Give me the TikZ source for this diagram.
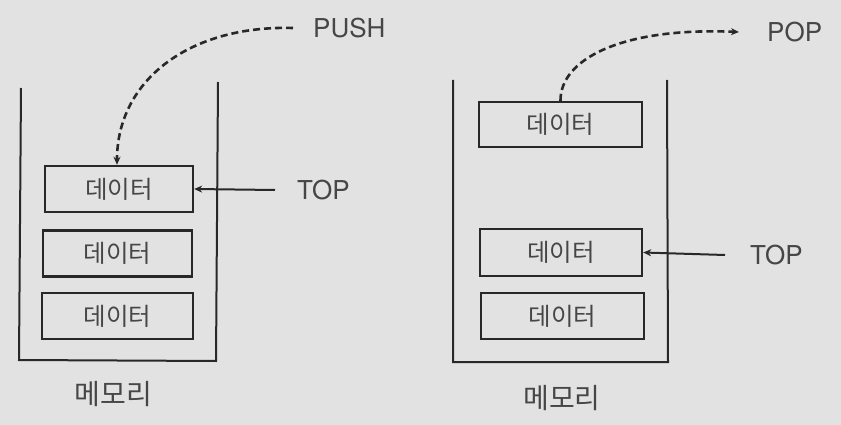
\documentclass[tikz,border=0pt]{standalone}
\usepackage{fontspec}
\setmainfont{TeX Gyre Heros}
\newfontfamily\kr{Noto Sans CJK KR}
\usetikzlibrary{arrows.meta}
\definecolor{bg}{RGB}{226,226,226}
\definecolor{ink}{RGB}{40,40,40}
\definecolor{txt}{RGB}{70,70,70}
\begin{document}
\begin{tikzpicture}[x=1pt,y=-1pt,
  databox/.style={draw=ink, line width=2.4pt, inner sep=0pt, minimum height=46pt,
    font=\kr\fontsize{24.5}{24.5}\selectfont, text=txt},
  lbl/.style={font=\fontsize{26}{26}\selectfont, text=txt, inner sep=0pt},
  memlbl/.style={font=\kr\fontsize{28}{28}\selectfont, text=txt, inner sep=0pt},
  wall/.style={draw=ink, line width=2pt},
  dasharrow/.style={draw=ink, line width=2.6pt, dash pattern=on 7pt off 4pt,
    -{Stealth[length=8pt,width=7pt]}},
  toparrow/.style={draw=ink, line width=2pt, -{Stealth[length=8pt,width=7pt]}}
]
\fill[bg] (0,0) rectangle (841,425);
\useasboundingbox (0,0) rectangle (841,425);

% left stack
\draw[wall] (21,88) -- (19,360) -- (216,361) -- (218,82);
\node[databox, minimum width=148pt] (L1) at (119,189) {데이터};
\node[databox, minimum width=149pt] (L2) at (117.5,253.5) {데이터};
\node[databox, minimum width=151pt] (L3) at (117.5,316) {데이터};
\node[memlbl] (memL) at (113.5,394) {메모리};
\node[lbl, anchor=west] (push) at (313,28) {PUSH};
\node[lbl, anchor=west] (topL) at (297,190) {TOP};
\draw[dasharrow] ([xshift=-20pt]push.west) .. controls (190,25) and (117,80) .. ([xshift=-2pt]L1.north);
\draw[toparrow] ([xshift=-22pt]topL.west) -- (L1.east);

% right stack
\draw[wall] (453,80) -- (453,362) -- (668,362) -- (667,80);
\node[databox, minimum width=163pt, minimum height=45pt] (R1) at (560.5,124.5) {데이터};
\node[databox, minimum width=162pt, minimum height=47pt] (R2) at (561,252.5) {데이터};
\node[databox, minimum width=163pt] (R3) at (562.5,316) {데이터};
\node[memlbl] (memR) at (562,398) {메모리};
\node[lbl, anchor=west] (pop) at (767,32) {POP};
\node[lbl, anchor=west] (topR) at (750,255) {TOP};
\draw[dasharrow] (R1.north) .. controls (560,60) and (620,27) .. ([xshift=-28pt]pop.west);
\draw[toparrow] ([xshift=-25pt]topR.west) -- (R2.east);
\end{tikzpicture}
\end{document}
